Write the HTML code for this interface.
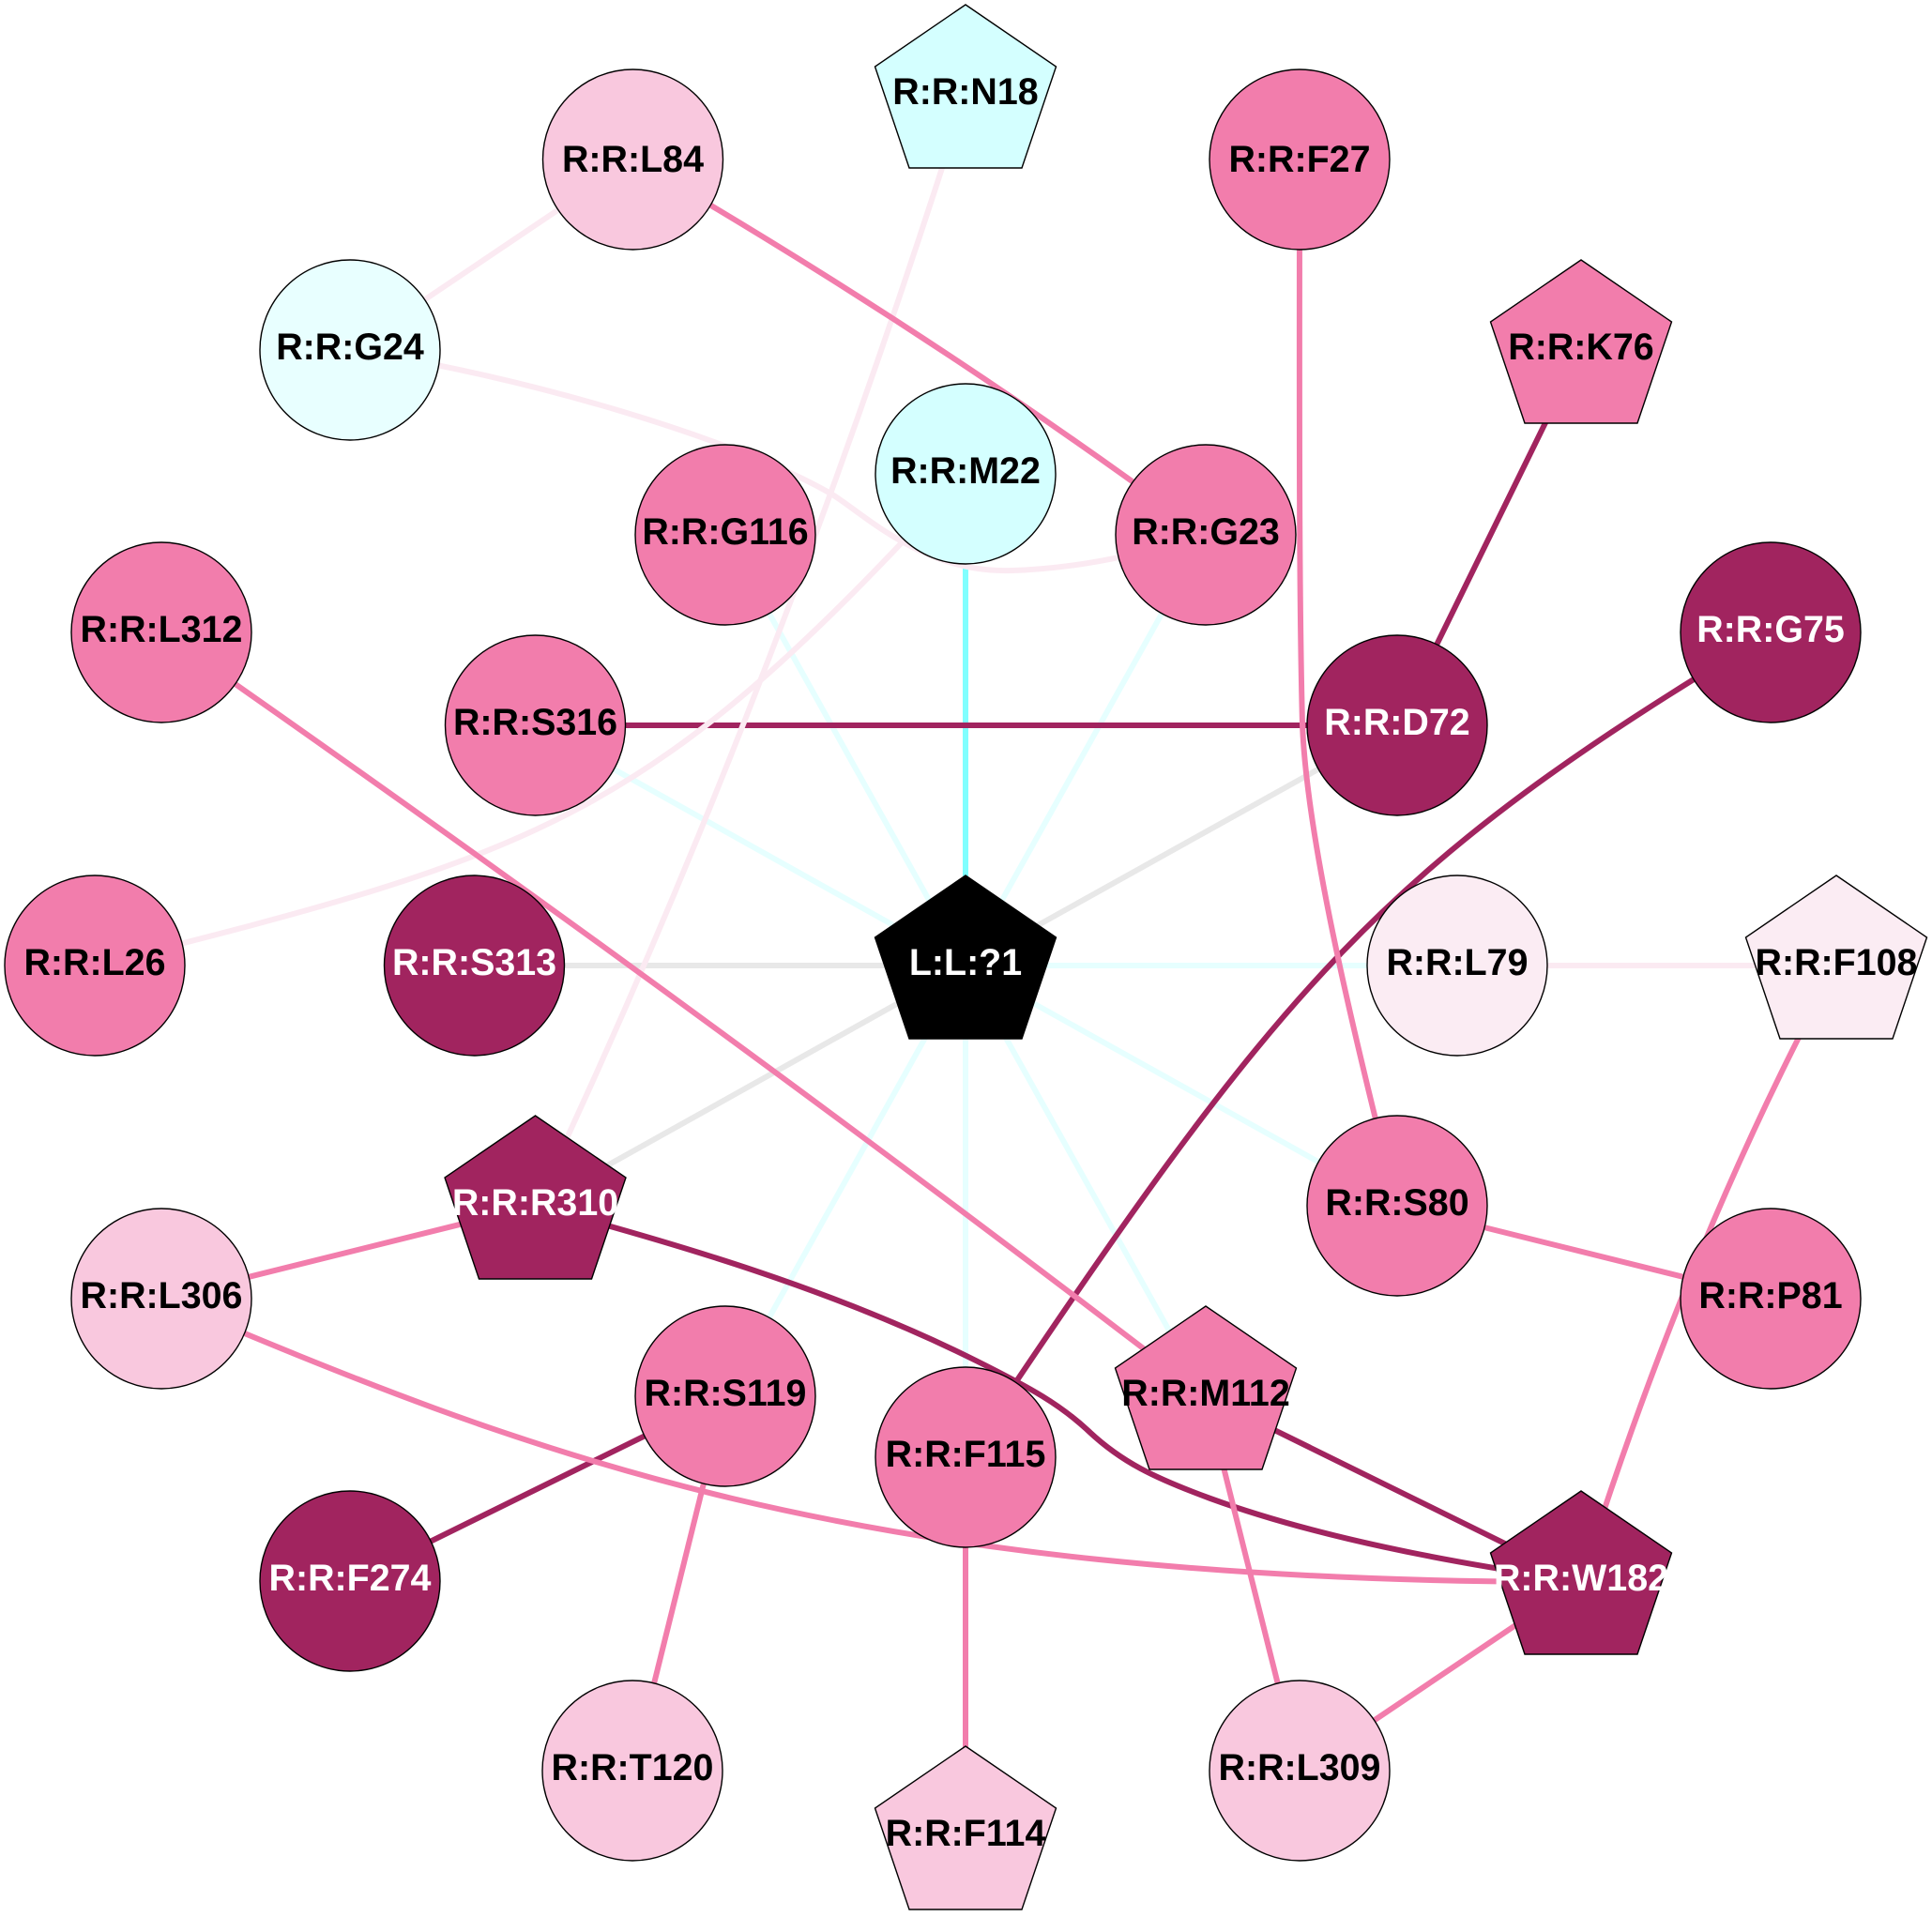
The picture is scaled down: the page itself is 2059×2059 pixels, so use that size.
<!DOCTYPE html>
<html><head><meta charset="utf-8"><style>
html,body{margin:0;padding:0;background:#fff}
svg{display:block}
text{font-family:"Liberation Sans",sans-serif;font-weight:bold;font-size:39.4px;text-anchor:middle}
.e{fill:none;stroke-width:6}
.c{stroke:#e6ffff}.m{stroke:#80ffff}.g{stroke:#e8e8e8}.l{stroke:#fbeaf2}.p{stroke:#f27dac}.d{stroke:#a1245f}
.n{stroke:#000;stroke-width:1.4}
</style></head><body>
<svg width="2059" height="2059" viewBox="0 0 2059 2059" xmlns="http://www.w3.org/2000/svg">
<rect width="2059" height="2059" fill="#fff"/>
<g class="e">
<path class="e c" d="M773 570L1029 1029"/>
<path class="e c" d="M1285 570L1029 1029"/>
<path class="e c" d="M570.5 773L1029 1029"/>
<path class="e c" d="M1553 1029L1029 1029"/>
<path class="e c" d="M1489 1285L1029 1029"/>
<path class="e c" d="M773 1488L1029 1029"/>
<path class="e c" d="M1285 1488L1029 1029"/>
<path class="e c" d="M1029 1553L1029 1029"/>
<path class="e m" d="M1029 505L1029 1029"/>
<path class="e g" d="M1489 773L1029 1029"/>
<path class="e g" d="M505.5 1029L1029 1029"/>
<path class="e g" d="M570.5 1285L1029 1029"/>
<path class="e d" d="M1685 373L1489 773"/>
<path class="e d" d="M570.5 773L1489 773"/>
<path class="e d" d="M1887 674C1468 925 1368 1045 1029 1553"/>
<path class="e d" d="M570.5 1285C720 1325 890 1375 1040 1450C1100 1480 1130 1497 1160 1525C1195 1558 1230 1575 1290 1597C1400 1637 1540 1665 1685 1685"/>
<path class="e d" d="M1285 1488L1685 1685"/>
<path class="e d" d="M773 1488L373 1685"/>
<path class="e l" d="M674.5 170L373 373"/>
<path class="e l" d="M373 373C560 400 790 470 887 527C920 547 985 612 1079 608C1150 606 1220 590 1285 570"/>
<path class="e l" d="M101 1029C583 908 694 873 1029 505"/>
<path class="e l" d="M1029 101Q825 747 570.5 1285"/>
<path class="e l" d="M1553 1029L1957 1029"/>
<path class="e p" d="M674.5 170Q991 353 1285 570"/>
<path class="e p" d="M1385 170C1385 400 1384 620 1388 772C1393 900 1445 1110 1489 1285"/>
<path class="e p" d="M172 674Q738 1068 1285 1488"/>
<path class="e p" d="M172 1384L570.5 1285"/>
<path class="e p" d="M1489 1285L1887 1384"/>
<path class="e p" d="M1957 1029Q1800 1320 1685 1685"/>
<path class="e p" d="M172 1384C565 1549 896 1686 1685 1686"/>
<path class="e p" d="M1285 1488L1385 1887"/>
<path class="e p" d="M773 1488L674 1887"/>
<path class="e p" d="M1029 1553L1029 1957"/>
<path class="e p" d="M1685 1685L1385 1887"/>
</g>
<g class="n">
<circle cx="674.5" cy="170" r="96" fill="#f9c8de"/>
<circle cx="1385" cy="170" r="96" fill="#f27dac"/>
<circle cx="373" cy="373" r="96" fill="#e8ffff"/>
<circle cx="1029" cy="505" r="96" fill="#d4ffff"/>
<circle cx="773" cy="570" r="96" fill="#f27dac"/>
<circle cx="1285" cy="570" r="96" fill="#f27dac"/>
<circle cx="172" cy="674" r="96" fill="#f27dac"/>
<circle cx="1887" cy="674" r="96" fill="#a1245f"/>
<circle cx="570.5" cy="773" r="96" fill="#f27dac"/>
<circle cx="1489" cy="773" r="96" fill="#a1245f"/>
<circle cx="101" cy="1029" r="96" fill="#f27dac"/>
<circle cx="505.5" cy="1029" r="96" fill="#a1245f"/>
<circle cx="1553" cy="1029" r="96" fill="#fbecf3"/>
<circle cx="1489" cy="1285" r="96" fill="#f27dac"/>
<circle cx="172" cy="1384" r="96" fill="#f9c8de"/>
<circle cx="1887" cy="1384" r="96" fill="#f27dac"/>
<circle cx="773" cy="1488" r="96" fill="#f27dac"/>
<circle cx="1029" cy="1553" r="96" fill="#f27dac"/>
<circle cx="373" cy="1685" r="96" fill="#a1245f"/>
<circle cx="674" cy="1887" r="96" fill="#f9c8de"/>
<circle cx="1385" cy="1887" r="96" fill="#f9c8de"/>
<polygon points="1029,5 1125.5,71 1089,179 969,179 932.500,71" fill="#d4ffff"/>
<polygon points="1685,277 1781.500,343 1745,451 1625,451 1588.500,343" fill="#f27dac"/>
<polygon points="1957,933 2053.500,999 2017,1107 1897,1107 1860.500,999" fill="#fbecf3"/>
<polygon points="1285,1392 1381.500,1458 1345,1566 1225,1566 1188.500,1458" fill="#f27dac"/>
<polygon points="1685,1589 1781.500,1655 1745,1763 1625,1763 1588.500,1655" fill="#a1245f"/>
<polygon points="1029,1861 1125.500,1927 1089,2035 969,2035 932.500,1927" fill="#f9c8de"/>
<polygon points="570.5,1189 667,1255 630.500,1363 510.500,1363 474,1255" fill="#a1245f"/>
<polygon points="1029,933 1125.500,999 1089,1107 969,1107 932.500,999" fill="#000"/>
</g>
<g>
<text x="674.5" y="183">R:R:L84</text>
<text x="1029" y="111">R:R:N18</text>
<text x="1385" y="183">R:R:F27</text>
<text x="373" y="383">R:R:G24</text>
<text x="1685" y="383">R:R:K76</text>
<text x="1029" y="515">R:R:M22</text>
<text x="773" y="580">R:R:G116</text>
<text x="1285" y="580">R:R:G23</text>
<text x="172" y="684">R:R:L312</text>
<text x="1887" y="684" fill="#fff">R:R:G75</text>
<text x="570.5" y="783">R:R:S316</text>
<text x="1489" y="783" fill="#fff">R:R:D72</text>
<text x="101" y="1039">R:R:L26</text>
<text x="505.5" y="1039" fill="#fff">R:R:S313</text>
<text x="1029" y="1039" fill="#fff">L:L:?1</text>
<text x="1553" y="1039">R:R:L79</text>
<text x="1957" y="1039">R:R:F108</text>
<text x="570.5" y="1295" fill="#fff">R:R:R310</text>
<text x="1489" y="1295">R:R:S80</text>
<text x="172" y="1394">R:R:L306</text>
<text x="1887" y="1394">R:R:P81</text>
<text x="1285" y="1498">R:R:M112</text>
<text x="773" y="1498">R:R:S119</text>
<text x="1029" y="1563">R:R:F115</text>
<text x="373" y="1695" fill="#fff">R:R:F274</text>
<text x="1685" y="1695" fill="#fff">R:R:W182</text>
<text x="674" y="1897">R:R:T120</text>
<text x="1385" y="1897">R:R:L309</text>
<text x="1029" y="1967">R:R:F114</text>
</g>
</svg>
</body></html>
